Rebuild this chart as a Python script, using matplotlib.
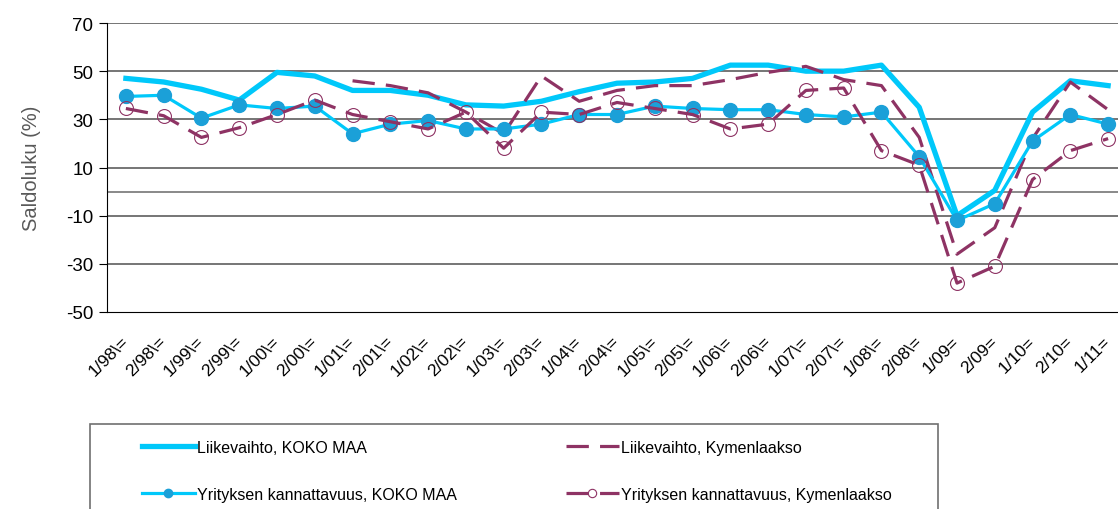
import numpy as np
import matplotlib.pyplot as plt
from matplotlib.patches import Rectangle

plt.rcParams['font.family'] = ['Liberation Sans', 'DejaVu Sans']
plt.rcParams['axes.unicode_minus'] = False

labels = ['1/98\\=', '2/98\\=', '1/99\\=', '2/99\\=', '1/00\\=', '2/00\\=', '1/01\\=',
          '2/01\\=', '1/02\\=', '2/02\\=', '1/03\\=', '2/03\\=', '1/04\\=', '2/04\\=',
          '1/05\\=', '2/05\\=', '1/06\\=', '2/06\\=', '1/07\\=', '2/07\\=', '1/08\\=',
          '2/08\\=', '1/09=', '2/09=', '1/10=', '2/10=', '1/11=']

# Liikevaihto, KOKO MAA
lv_koko = [47, 45.5, 42.5, 38, 49.5, 48, 42, 42, 40, 36, 35.5, 37.5, 41.5, 45, 45.5,
           47, 52.5, 52.5, 50, 50, 52.5, 35, -10, 0.5, 33, 46, 44]
# Liikevaihto, Kymenlaakso (alkaa 1/01)
lv_kymi = [None, None, None, None, None, None, 46, 44, 41, 33, 24, 48, 37.5, 42, 44,
           44, 46.5, 49.5, 52, 46.5, 44, 22.5, -26, -15, 22, 45.5, 34]
# Yrityksen kannattavuus, KOKO MAA
yk_koko = [39.5, 40, 30.5, 36, 34.5, 35.5, 24, 28, 29.5, 26, 26, 28, 32, 32, 35.5,
           34.5, 34, 34, 32, 31, 33, 14.5, -12, -5, 21, 32, 28]
# Yrityksen kannattavuus, Kymenlaakso
yk_kymi = [34.5, 31.5, 22.5, 26.5, 32, 38, 32, 29, 26, 33, 18, 33, 32, 37, 34.5,
           32, 26, 28, 42, 43, 17, 11, -38, -31, 5, 17, 22]

cyan = '#00C8FA'
blue = '#1BA0D8'
purple = '#8E3364'

x = np.arange(len(labels))
lv_kymi = np.array([np.nan if v is None else v for v in lv_kymi], dtype=float)

fig = plt.figure(figsize=(11.18, 5.10), dpi=100)
ax = fig.add_axes([107/1118, 197/510, 1020/1118, 289/510])

ax.set_ylim(-50, 70)
ax.set_xlim(-0.5, len(labels) - 0.5)
ax.set_yticks(np.arange(-50, 71, 20))
for v in np.arange(-30, 71, 20):
    ax.axhline(v, color='#505050', lw=1.1, zorder=1)
ax.axhline(0, color='#808080', lw=1.3, zorder=1)

l1, = ax.plot(x, lv_koko, color=cyan, lw=3.8, solid_joinstyle='round', zorder=3,
              label='Liikevaihto, KOKO MAA')
l2, = ax.plot(x, lv_kymi, color=purple, lw=2.3, dashes=(7, 3.5), zorder=4,
              label='Liikevaihto, Kymenlaakso')
l3, = ax.plot(x, yk_koko, color=cyan, lw=2.3, marker='o', ms=10, mfc=blue, mec=blue,
              zorder=5, label='Yrityksen kannattavuus, KOKO MAA')
l4, = ax.plot(x, yk_kymi, color=purple, lw=2.3, dashes=(7, 3.5), marker='o', ms=10,
              mfc='none', mec=purple, mew=0.8, zorder=6,
              label='Yrityksen kannattavuus, Kymenlaakso')

for s in ['top', 'right']:
    ax.spines[s].set_visible(False)
ax.spines['left'].set_color('black')
ax.spines['bottom'].set_color('black')
ax.tick_params(axis='y', length=6, direction='out', labelsize=13.5, pad=4)
ax.tick_params(axis='x', length=0, pad=19)
ax.set_xticks(x)
ax.set_xticklabels(labels, rotation=45, ha='right', va='center',
                   rotation_mode='anchor', fontsize=12.5)
ax.set_ylabel('Saldoluku (%)', fontsize=14.5, color='#595959', labelpad=18)

fig.patches.append(Rectangle((90/1118, -0.05), (938-90)/1118, (510-425)/510 + 0.05,
                             transform=fig.transFigure, fill=False,
                             edgecolor='#707070', lw=1.2))

leg_font = {'size': 11.5}
leg1 = fig.legend(handles=[l1, l3], loc='upper left', frameon=False, prop=leg_font,
                  bbox_to_anchor=(134/1118, 1 - 433/510), handlelength=3.3,
                  handletextpad=0.15, labelspacing=2.0, borderpad=0)
leg2 = fig.legend(handles=[l2, l4], loc='upper left', frameon=False, prop=leg_font,
                  bbox_to_anchor=(558/1118, 1 - 433/510), handlelength=3.3,
                  handletextpad=0.15, labelspacing=2.0, borderpad=0)
for lg in (leg1, leg2):
    for h in lg.legend_handles:
        if h.get_marker() == 'o':
            h.set_markersize(6)

fig.savefig('out.png', dpi=100)
